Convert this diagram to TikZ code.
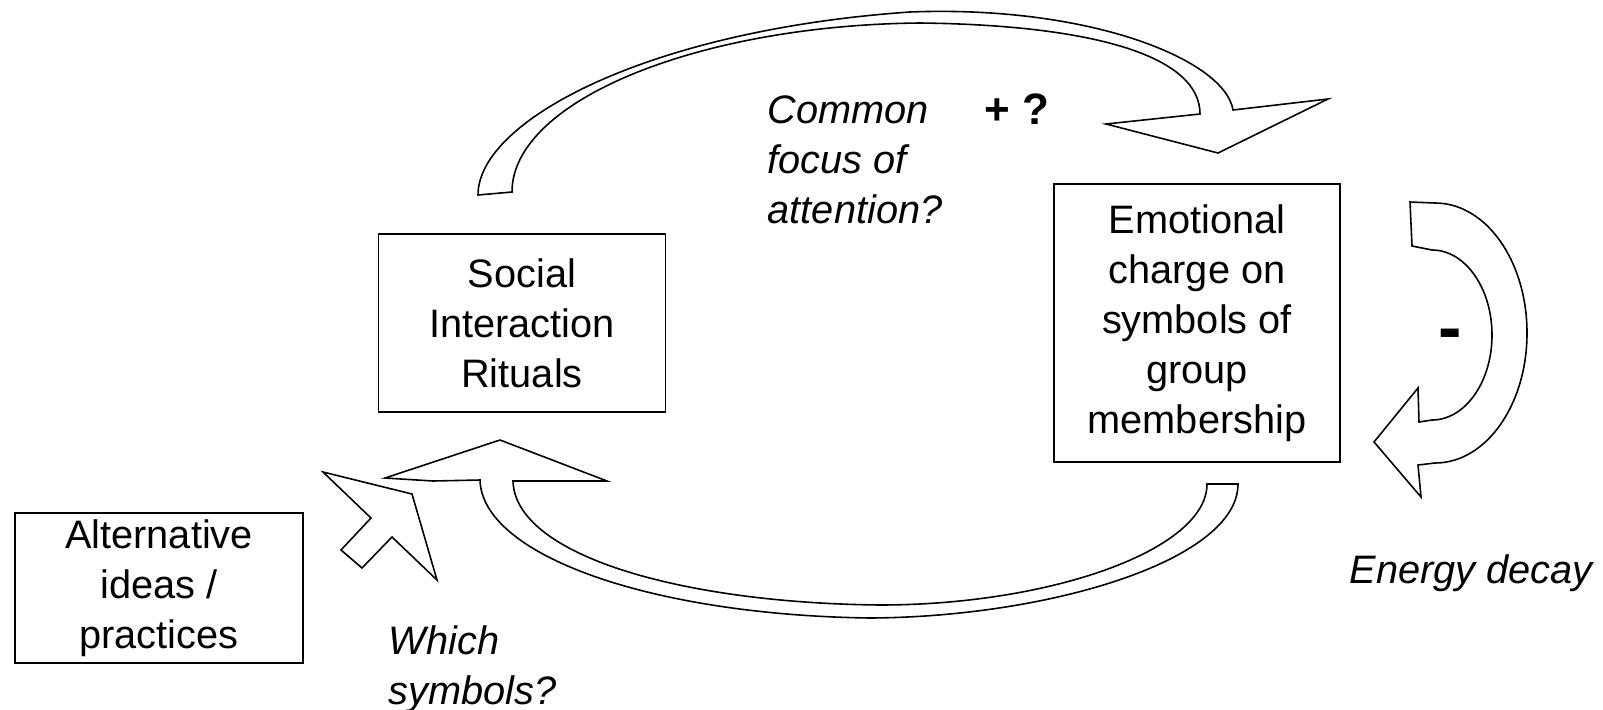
\documentclass[tikz,border=0pt]{standalone}
\usepackage{fontspec}
\setmainfont{Liberation Sans}
\begin{document}
\begin{tikzpicture}[x=0.01cm,y=-0.01cm,line width=0.45pt,
    every node/.style={font=\fontsize{11.3}{14.2}\selectfont},
    box/.style={draw,fill=white,align=center,minimum width=2.87cm,inner sep=0pt},
    lbl/.style={align=left,inner sep=0pt,font=\fontsize{11.3}{14.2}\selectfont\itshape},
    sign/.style={inner sep=0pt,font=\fontsize{12.5}{14.2}\selectfont\bfseries},
    blockarrow/.style={draw,fill=white,line join=miter}]
        \useasboundingbox (0,0) rectangle (1603,709);
        \draw[blockarrow] (478,195) .. controls (478,120) and (650,30) .. (910,12)
            .. controls (1090,5) and (1225,60) .. (1233,110)
            -- (1328,99) -- (1218,153) -- (1106,124) -- (1200,114)
            .. controls (1200,55) and (1090,25) .. (920,23)
            .. controls (700,25) and (512,100) .. (512,192) -- cycle;
        \draw[blockarrow] (1410,202) -- (1435,203) .. controls (1486,203) and (1527,261) .. (1527,333)
            .. controls (1527,405) and (1486,463) .. (1435,463) -- (1418,465) -- (1421,497)
            -- (1374,442) -- (1418,388) -- (1419,422) -- (1432,420)
            .. controls (1465,420) and (1492,382) .. (1492,335)
            .. controls (1492,288) and (1465,250) .. (1432,250) -- (1412,246) -- cycle;
        \draw[blockarrow] (1207,484) -- (1238,484) .. controls (1238,560) and (1050,617) .. (870,618)
            .. controls (650,615) and (482,555) .. (480,480) -- (433,481) -- (385,478)
            -- (500,440) -- (607,481) -- (513,481)
            .. controls (515,555) and (680,603) .. (880,605)
            .. controls (1050,605) and (1207,550) .. (1207,484) -- cycle;
        \draw[blockarrow] (323,472) -- (412,494) -- (437,580) -- (392,537) -- (362,568)
            -- (341,550) -- (371,518) -- cycle;
        \node (soc) [box,minimum height=1.78cm] at (522,323) {Social\\Interaction\\Rituals};
        \node (emo) [box,minimum width=2.86cm,minimum height=2.78cm] at (1197,323)
            {Emotional\\charge on\\symbols of\\group\\membership};
        \node (alt) [box,minimum width=2.88cm,minimum height=1.5cm] at (159,588)
            {Alternative\\ideas /\\practices};
        \node (foc) [lbl,anchor=west] at (767,160) {Common\\focus of\\attention?};
        \node (plus) [sign] at (1017,109) {+ ?};
        \node (minus) [sign,font=\fontsize{20}{20}\selectfont\bfseries] at (1450,340) {-};
        \node (decay) [lbl] at (1471,573) {Energy decay};
        \node (which) [lbl,anchor=west] at (388,669) {Which\\symbols?};
    \end{tikzpicture}
\end{document}
